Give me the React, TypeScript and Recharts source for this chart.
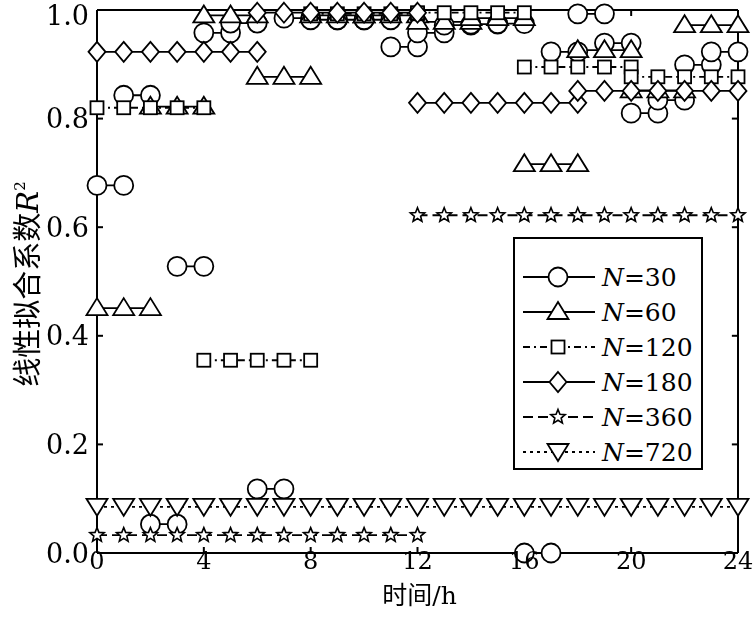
import { Legend, Line, LineChart, XAxis, YAxis, Label, ReferenceLine } from "recharts";

// R^2 per time window; each array covers 0-24 h in equal windows
const n30 = [0.677, 0.843, 0.053, 0.528, 0.958, 0.976, 0.118, 0.985, 0.982, 0.982, 0.982, 0.932,
  0.958, 0.972, 0.974, 0.975, 0.0, 0.923, 0.993, 0.939, 0.81, 0.834, 0.899, 0.923];
const n60 = [0.451, 0.822, 0.99, 0.877, 0.99, 0.99, 0.978, 0.985, 0.716, 0.926, 0.852, 0.972];
const n120 = [0.82, 0.355, 0.993, 0.995, 0.895, 0.877];
const n180 = [0.923, 0.995, 0.829, 0.851];
const n360 = [0.033, 0.622];
const n720 = [0.085];

const hours = [0, 1, 2, 3, 4, 5, 6, 7, 8, 9, 10, 11, 12, 13, 14, 15, 16, 17, 18, 19, 20, 21, 22, 23, 24];
const xTicks = [0, 4, 8, 12, 16, 20, 24];
const yTicks = [0, 0.2, 0.4, 0.6, 0.8, 1.0];

const series = [
  { n: "30", values: n30, shape: "circle", dash: undefined },
  { n: "60", values: n60, shape: "triangle", dash: undefined },
  { n: "120", values: n120, shape: "square", dash: "7 4 2 4" },
  { n: "180", values: n180, shape: "diamond", dash: undefined },
  { n: "360", values: n360, shape: "star", dash: "10 5" },
  { n: "720", values: n720, shape: "down", dash: "3 4" },
];

const SERIF = "'DejaVu Serif', 'Liberation Serif', serif";
const CJK = "'Noto Sans CJK SC', sans-serif";

// one point per hour, a null between windows so each window is its own segment
function toPoints(values: number[]) {
  const len = 24 / values.length;
  const pts: { x: number; y: number | null }[] = [];
  values.forEach((v, i) => {
    if (i > 0) pts.push({ x: i * len, y: null });
    for (let h = i * len; h <= (i + 1) * len; h++) pts.push({ x: h, y: v });
  });
  return pts;
}

function marker(kind: string, cx: number, cy: number) {
  const st = { fill: "#fff", stroke: "#000", strokeWidth: 1.8 };
  switch (kind) {
    case "circle":
      return <circle cx={cx} cy={cy} r={9.5} {...st} />;
    case "triangle":
      return <polygon points={`${cx},${cy - 10} ${cx + 10.5},${cy + 7} ${cx - 10.5},${cy + 7}`} {...st} />;
    case "square":
      return <rect x={cx - 6.5} y={cy - 6.5} width={13} height={13} {...st} />;
    case "diamond":
      return <polygon points={`${cx},${cy - 10} ${cx + 8.5},${cy} ${cx},${cy + 10} ${cx - 8.5},${cy}`} {...st} />;
    case "star": {
      const p: string[] = [];
      for (let k = 0; k < 10; k++) {
        const r = k % 2 === 0 ? 7.5 : 3.3;
        const a = -Math.PI / 2 + (k * Math.PI) / 5;
        p.push(`${cx + r * Math.cos(a)},${cy + r * Math.sin(a)}`);
      }
      return <polygon points={p.join(" ")} {...st} strokeWidth={1.6} />;
    }
    default:
      return <polygon points={`${cx - 10.5},${cy - 8} ${cx + 10.5},${cy - 8} ${cx},${cy + 9}`} {...st} />;
  }
}

function LegendBox() {
  return (
    <svg width={190} height={233} style={{ display: "block" }}>
      <rect x={1} y={1} width={188} height={231} fill="#fff" stroke="#000" strokeWidth={2} />
      {series.map((s, i) => {
        const cy = 40 + i * 35;
        return (
          <g key={s.n}>
            <line x1={10} x2={82} y1={cy} y2={cy} stroke="#000" strokeWidth={1.8} strokeDasharray={s.dash} />
            {marker(s.shape, 45, cy)}
            <text x={89} y={cy + 9} fontSize={25} fontFamily={SERIF} fill="#000">
              <tspan fontStyle="italic">N</tspan>={s.n}
            </text>
          </g>
        );
      })}
    </svg>
  );
}

export default function App() {
  return (
    <div style={{ position: "fixed", left: 0, top: 0, fontFamily: SERIF }}>
      <LineChart
        width={753}
        height={618}
        data={hours.map((h) => ({ x: h }))}
        margin={{ top: 10, right: 15, bottom: 0, left: 0 }}
      >
        <XAxis
          dataKey="x"
          type="number"
          domain={[0, 24]}
          ticks={xTicks}
          height={65}
          tickSize={-6}
          tickMargin={5}
          tick={{ fontSize: 24, fill: "#000", fontFamily: SERIF }}
          stroke="#000"
          strokeWidth={2}
        >
          <Label
            content={({ viewBox }: any) => (
              <text x={viewBox.x + viewBox.width / 2 + 2} y={viewBox.y + 51} textAnchor="middle" fontSize={25} fill="#000">
                <tspan fontFamily={CJK}>时间</tspan>
                <tspan fontFamily={SERIF}>/h</tspan>
              </text>
            )}
          />
        </XAxis>
        <YAxis
          type="number"
          domain={[0, 1]}
          ticks={yTicks}
          width={97}
          tickSize={-6}
          tickMargin={14}
          tick={{ fontSize: 27, fill: "#000", fontFamily: SERIF }}
          tickFormatter={(v: number) => v.toFixed(1)}
          stroke="#000"
          strokeWidth={2}
        >
          <Label
            content={() => (
              <text transform="translate(38,284) rotate(-90)" textAnchor="middle" fontSize={29} fill="#000">
                <tspan fontFamily={CJK}>线性拟合系数</tspan>
                <tspan fontFamily={SERIF} fontStyle="italic">R</tspan>
                <tspan fontFamily={SERIF} fontSize={15} dy={-13}>2</tspan>
              </text>
            )}
          />
        </YAxis>
        {/* top and right frame with inward ticks */}
        <ReferenceLine y={1} stroke="#000" strokeWidth={2} ifOverflow="visible" />
        <ReferenceLine x={24} stroke="#000" strokeWidth={2} ifOverflow="visible" />
        {xTicks.map((x) => (
          <ReferenceLine key={`tt${x}`} segment={[{ x, y: 1 }, { x, y: 1 - 0.011 }]} stroke="#000" strokeWidth={2} ifOverflow="visible" />
        ))}
        {yTicks.map((y) => (
          <ReferenceLine key={`rt${y}`} segment={[{ x: 24, y }, { x: 24 - 0.23, y }]} stroke="#000" strokeWidth={2} ifOverflow="visible" />
        ))}
        {series.map((s) => (
          <Line
            key={s.n}
            data={toPoints(s.values)}
            dataKey="y"
            name={`N=${s.n}`}
            stroke="#000"
            strokeWidth={1.8}
            strokeDasharray={s.dash}
            connectNulls={false}
            activeDot={false}
            isAnimationActive={false}
            dot={(p: any) =>
              p.value == null || p.cy == null ? <g key={p.index} /> : <g key={p.index}>{marker(s.shape, p.cx, p.cy)}</g>
            }
          />
        ))}
        <Legend
          layout="vertical"
          align="center"
          verticalAlign="middle"
          wrapperStyle={{ left: 513, top: 237, width: 190, height: 233 }}
          content={() => <LegendBox />}
        />
      </LineChart>
    </div>
  );
}
